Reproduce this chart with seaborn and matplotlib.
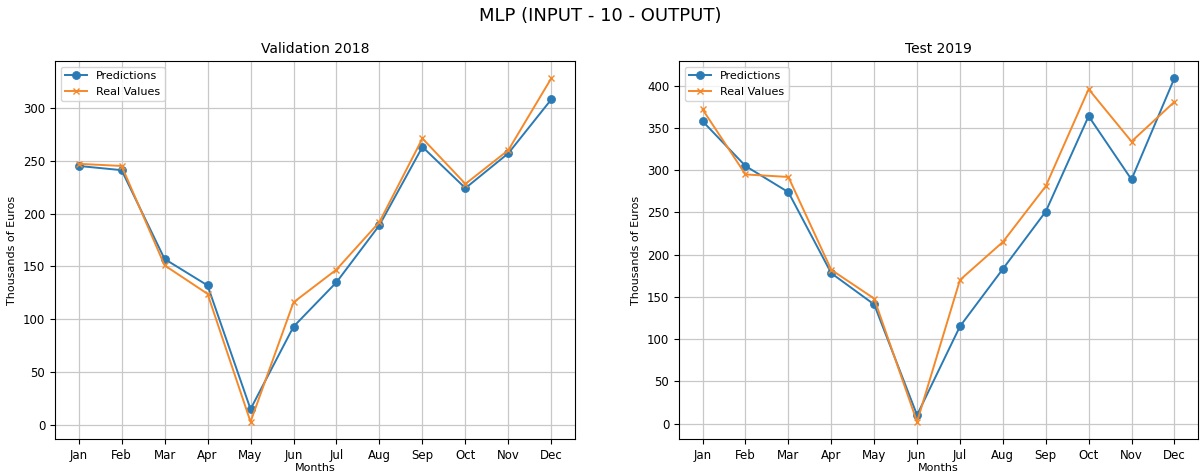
import matplotlib
matplotlib.use("Agg")
import matplotlib.pyplot as plt
import seaborn as sns
import pandas as pd

months = ["Jan", "Feb", "Mar", "Apr", "May", "Jun", "Jul", "Aug", "Sep", "Oct", "Nov", "Dec"]

val_pred = [245, 241, 157, 132, 15, 93, 135, 189, 263, 224, 257, 308]
val_real = [247, 245, 151, 124, 3, 116, 147, 192, 271, 228, 260, 328]

test_pred = [358, 305, 274, 178, 141, 10, 115, 183, 251, 364, 289, 409]
test_real = [372, 295, 292, 182, 148, 2, 170, 215, 281, 396, 334, 381]

suptitle = "MLP (INPUT - 10 - OUTPUT)"
titles = ["Validation 2018", "Test 2019"]

plt.rcParams["font.family"] = ["DejaVu Sans"]

fig = plt.figure(figsize=(12.01, 4.75), dpi=100)
ax1 = fig.add_axes([55 / 1201, 1 - 439 / 475, 520 / 1201, 378 / 475])
ax2 = fig.add_axes([679 / 1201, 1 - 439 / 475, 519 / 1201, 378 / 475])

blue = "#2a7ab5"
orange = "#f5892a"

for ax, pred, real, title in [(ax1, val_pred, val_real, titles[0]),
                              (ax2, test_pred, test_real, titles[1])]:
    df = pd.DataFrame({"Month": months, "Predictions": pred, "Real Values": real})
    sns.lineplot(data=df, x="Month", y="Predictions", ax=ax, color=blue, marker="o",
                 markersize=5.8, markeredgecolor=blue, markerfacecolor=blue,
                 markeredgewidth=0.5, linewidth=1.4, label="Predictions", sort=False)
    sns.lineplot(data=df, x="Month", y="Real Values", ax=ax, color=orange, marker="x",
                 markersize=5, markeredgecolor=orange, markeredgewidth=1.0,
                 linewidth=1.4, label="Real Values", sort=False)
    ax.grid(True, color="#c8c8c8", linewidth=0.9)
    ax.set_axisbelow(True)
    ax.set_title(title, fontsize=10)
    ax.set_xlabel("Months", fontsize=8, labelpad=1)
    ax.set_ylabel("Thousands of Euros", fontsize=8)
    ax.tick_params(labelsize=8.5)
    ax.margins(x=0.05, y=0.05)
    ax.legend(loc="upper left", fontsize=8)

fig.suptitle(suptitle, fontsize=13, y=0.985)
fig.savefig("out.png", dpi=100)
